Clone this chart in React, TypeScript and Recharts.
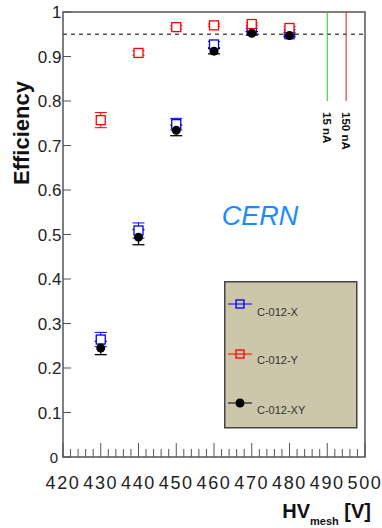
import {
  ScatterChart,
  Scatter,
  XAxis,
  YAxis,
  ErrorBar,
  ReferenceLine,
  ReferenceArea,
  ReferenceDot,
  Legend,
} from 'recharts';

// HV_mesh scan points (V)
const hv = [430, 440, 450, 460, 470, 480];

// efficiencies and their errors per readout plane
const effX = [0.264, 0.509, 0.748, 0.927, 0.96, 0.95];
const errX = [0.016, 0.017, 0.013, 0.007, 0.004, 0.004];
const effY = [0.757, 0.908, 0.966, 0.97, 0.973, 0.964];
const errY = [0.017, 0.005, 0.004, 0.003, 0.003, 0.003];
const effXY = [0.245, 0.494, 0.734, 0.912, 0.952, 0.947];
const errXY = [0.015, 0.017, 0.012, 0.006, 0.004, 0.003];

const seriesNames = ['C-012-X', 'C-012-Y', 'C-012-XY'];
const xTicks = [420, 422, 424, 426, 428, 430, 432, 434, 436, 438, 440, 442, 444, 446, 448, 450, 452, 454, 456, 458, 460, 462, 464, 466, 468, 470, 472, 474, 476, 478, 480, 482, 484, 486, 488, 490, 492, 494, 496, 498, 500];
const yTicks = [0, 0.1, 0.2, 0.3, 0.4, 0.5, 0.6, 0.7, 0.8, 0.9, 1];
const targetEff = 0.95;
const currents = [
  { hv: 490, label: '15 nA', color: '#22cc22' },
  { hv: 495, label: '150 nA', color: '#dd2020' },
];

const toRows = (eff: number[], err: number[]) =>
  hv.map((v, i) => ({ hv: v, eff: eff[i], err: err[i] }));

const dataX = toRows(effX, errX);
const dataY = toRows(effY, errY);
const dataXY = toRows(effXY, errXY);

const FONT = '"Liberation Sans", Arial, sans-serif';
const AXIS = '#555';

const XTick = (props: any) => {
  const { x, y, payload } = props;
  const v = payload.value;
  const major = v % 10 === 0;
  return (
    <g>
      <line x1={x} x2={x} y1={y} y2={y - (major ? 14 : 8)} stroke={AXIS} strokeWidth={1} />
      {major && (
        <text x={x} y={y + 32} textAnchor="middle" fontSize={18} letterSpacing={1.6} fill="#222" fontFamily={FONT}>
          {v}
        </text>
      )}
    </g>
  );
};

const YTick = (props: any) => {
  const { x, y, payload } = props;
  const v = payload.value;
  const label = v === 0 ? '0' : v === 1 ? '1' : v.toFixed(1);
  return (
    <g>
      <line x1={x} x2={x + 8} y1={y} y2={y} stroke={AXIS} strokeWidth={1} />
      <text
        x={v === 0 ? x - 5 : x - 1.5}
        y={y + 6}
        textAnchor="end"
        fontSize={v === 0 ? 15 : 17}
        fill="#222"
        fontFamily={FONT}
      >
        {label}
      </text>
    </g>
  );
};

// open squares get a white inside so the error bar stops at the marker
const openSquare = (color: string) => (p: any) => (
  <rect x={p.cx - 4.5} y={p.cy - 4.5} width={9} height={9} fill="#fff" stroke={color} strokeWidth={1.3} />
);
const fullDot = (p: any) => <circle cx={p.cx} cy={p.cy} r={4.5} fill="#000" />;

const currentLabel = (text: string) => (p: any) => (
  <text
    x={p.cx - 4}
    y={p.cy + 11}
    transform={`rotate(90, ${p.cx - 4}, ${p.cy + 11})`}
    fontSize={11.5}
    fontWeight="bold"
    fill="#111"
    fontFamily={FONT}
  >
    {text}
  </text>
);

const legendRows = [
  { name: seriesNames[0], color: '#0000ff', kind: 'square', my: 23, ty: 34.5 },
  { name: seriesNames[1], color: '#ff0000', kind: 'square', my: 73, ty: 83 },
  { name: seriesNames[2], color: '#000000', kind: 'dot', my: 122, ty: 133 },
];

const LegendBox = () => (
  <svg width={134} height={148} style={{ display: 'block' }}>
    <rect x={0.75} y={0.75} width={132} height={146} fill="#ccc6aa" stroke="#444" strokeWidth={1.5} />
    {legendRows.map((r) => (
      <g key={r.name}>
        <line x1={4} x2={28} y1={r.my} y2={r.my} stroke={r.color} strokeWidth={1} />
        {r.kind === 'square' ? (
          <rect x={12} y={r.my - 4} width={8} height={8} fill="none" stroke={r.color} strokeWidth={1.3} />
        ) : (
          <circle cx={16} cy={r.my} r={4.5} fill="#000" />
        )}
        <text x={33} y={r.ty} fontSize={11} fill="#333" fontFamily={FONT}>
          {r.name}
        </text>
      </g>
    ))}
  </svg>
);

export default function App() {
  return (
    <div style={{ position: 'absolute', left: 0, top: 0, width: 382, height: 528, background: '#fff' }}>
      <ScatterChart width={382} height={528} margin={{ top: 12, right: 17, bottom: 0, left: 0 }}>
        <XAxis
          dataKey="hv"
          type="number"
          domain={[420, 500]}
          ticks={xTicks}
          interval={0}
          allowDataOverflow
          axisLine={false}
          tickLine={false}
          tickSize={0}
          tickMargin={0}
          height={71}
          tick={<XTick />}
        />
        <YAxis
          dataKey="eff"
          type="number"
          domain={[0, 1]}
          ticks={yTicks}
          interval={0}
          allowDataOverflow
          axisLine={false}
          tickLine={false}
          tickSize={0}
          tickMargin={0}
          width={63}
          tick={<YTick />}
        />
        <ReferenceArea x1={420} x2={500} y1={0} y2={1} fill="none" stroke={AXIS} strokeWidth={1.5} />
        <ReferenceLine y={targetEff} stroke="#555" strokeWidth={1.5} strokeDasharray="4 4" />
        {currents.map((c) => (
          <ReferenceLine
            key={c.label}
            segment={[
              { x: c.hv, y: 0.8 },
              { x: c.hv, y: 1 },
            ]}
            stroke={c.color}
            strokeWidth={1}
          />
        ))}
        {currents.map((c) => (
          <ReferenceDot key={c.label + 'l'} x={c.hv} y={0.8} r={0} shape={currentLabel(c.label)} />
        ))}
        <Scatter name={seriesNames[0]} data={dataX} shape={openSquare('#0000ff')} isAnimationActive={false}>
          <ErrorBar dataKey="err" direction="y" width={6} stroke="#0000ff" strokeWidth={1} />
        </Scatter>
        <Scatter name={seriesNames[1]} data={dataY} shape={openSquare('#ff0000')} isAnimationActive={false}>
          <ErrorBar dataKey="err" direction="y" width={6} stroke="#ff0000" strokeWidth={1} />
        </Scatter>
        <Scatter name={seriesNames[2]} data={dataXY} shape={fullDot} isAnimationActive={false}>
          <ErrorBar dataKey="err" direction="y" width={6} stroke="#000" strokeWidth={1.3} />
        </Scatter>
        <Legend
          layout="vertical"
          align="center"
          verticalAlign="middle"
          content={<LegendBox />}
          wrapperStyle={{ position: 'absolute', left: 224, top: 281, width: 134, height: 148 }}
        />
      </ScatterChart>
      <svg width={382} height={528} style={{ position: 'absolute', left: 0, top: 0, pointerEvents: 'none' }}>
        <text
          x={29}
          y={133}
          transform="rotate(-90, 29, 133)"
          textAnchor="middle"
          fontSize={22}
          fontWeight="bold"
          fill="#111"
          fontFamily={FONT}
        >
          Efficiency
        </text>
        <text x={371} y={518} textAnchor="end" fontWeight="bold" fill="#111" fontFamily={FONT} fontSize={20}>
          HV
          <tspan fontSize={11} dy={7}>
            mesh
          </tspan>
          <tspan fontSize={20} dy={-7}>
            {' [V]'}
          </tspan>
        </text>
        <text x={260} y={225} textAnchor="middle" fontSize={27} fontStyle="italic" fill="#1a8cff" fontFamily={FONT}>
          CERN
        </text>
      </svg>
    </div>
  );
}
